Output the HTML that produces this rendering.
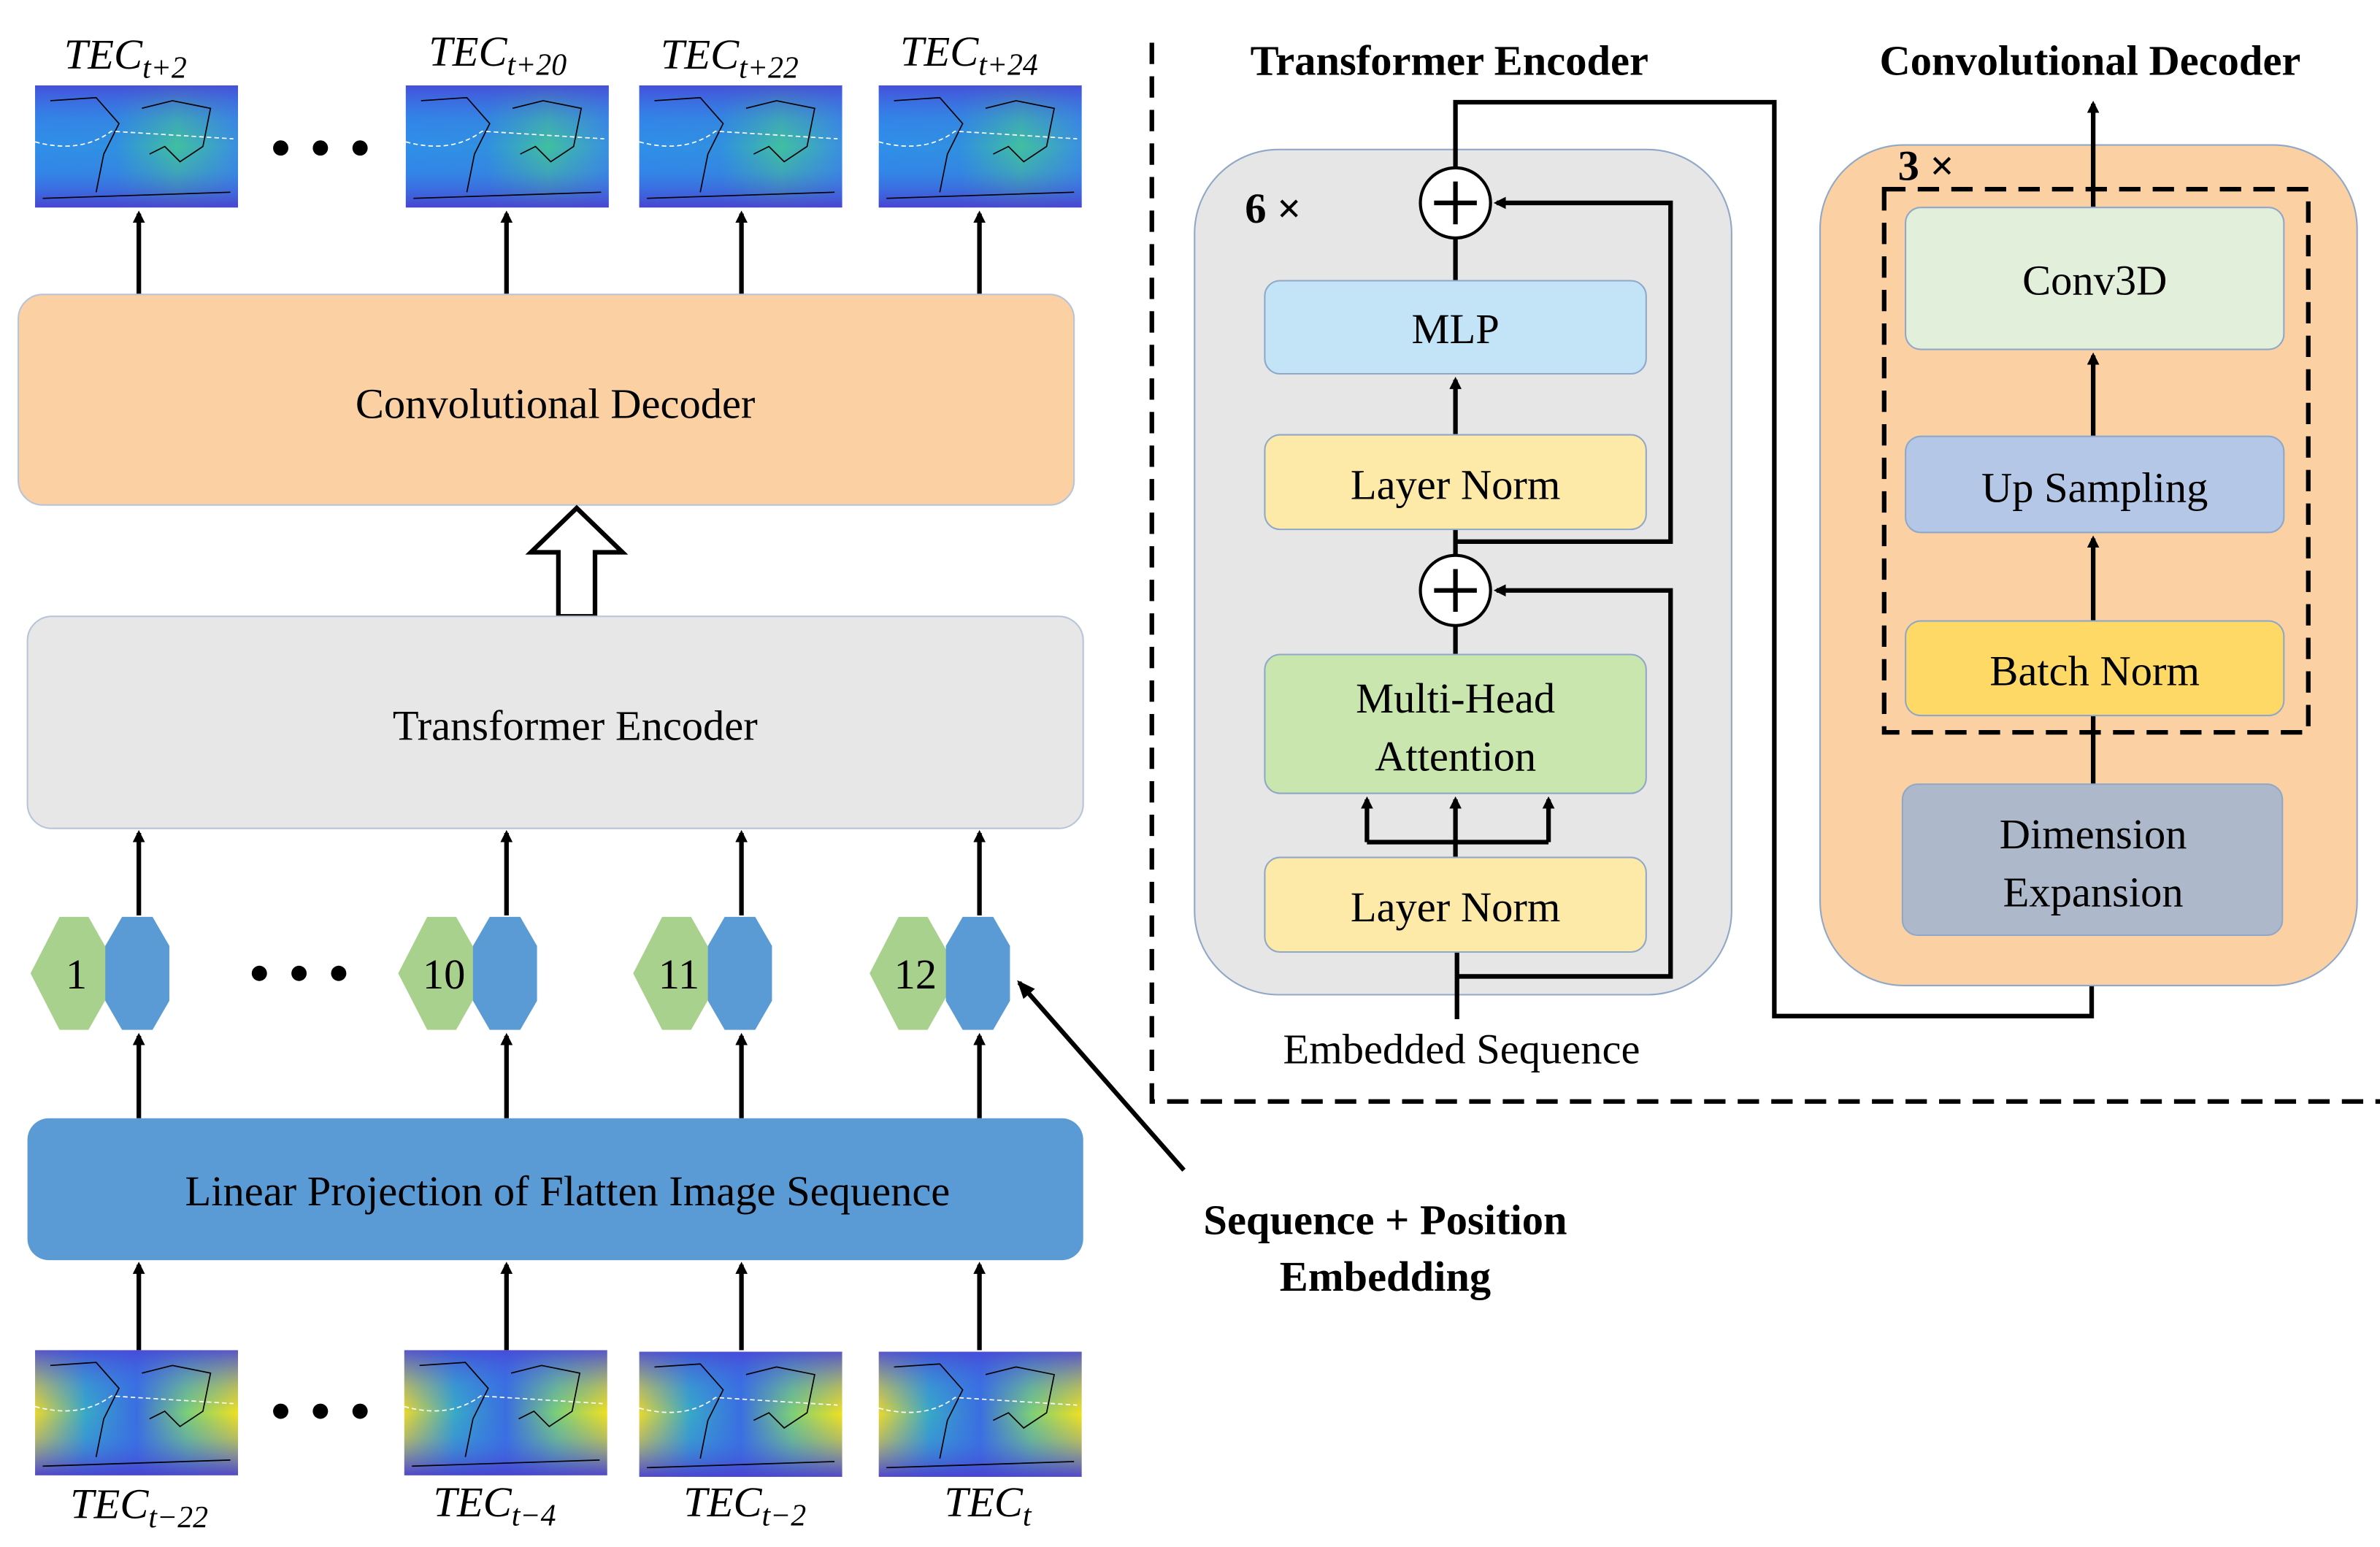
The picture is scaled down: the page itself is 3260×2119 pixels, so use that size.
<!DOCTYPE html>
<html><head><meta charset="utf-8"><style>
html,body{margin:0;padding:0;background:#fff;width:3260px;height:2119px;overflow:hidden}
svg{display:block}
svg text{font-family:"Liberation Serif","Times New Roman",serif}
</style></head><body>
<svg width="3260" height="2119" viewBox="0 0 1560 1014" xmlns="http://www.w3.org/2000/svg" font-family="Liberation Serif, Times New Roman, serif">
<defs>
<marker id="ah" markerWidth="8" markerHeight="8" refX="6" refY="4" orient="auto" markerUnits="userSpaceOnUse"><path d="M0,0 L8,4 L0,8 z" fill="#000"/></marker>
<marker id="ah2" markerWidth="12" markerHeight="10" refX="10" refY="5" orient="auto" markerUnits="userSpaceOnUse"><path d="M0,0 L12,5 L0,10 z" fill="#000"/></marker>
<linearGradient id="mapA" x1="0" y1="0" x2="1" y2="0">
<stop offset="0" stop-color="#e8d830"/><stop offset="0.25" stop-color="#38a8c8"/><stop offset="0.5" stop-color="#3a6ee0"/><stop offset="0.75" stop-color="#7ccf78"/><stop offset="1" stop-color="#f0e020"/></linearGradient>
<linearGradient id="mapV" x1="0" y1="0" x2="0" y2="1">
<stop offset="0" stop-color="#4848d8" stop-opacity="0.9"/><stop offset="0.3" stop-color="#3a70e8" stop-opacity="0.3"/><stop offset="0.5" stop-color="#3a70e8" stop-opacity="0"/><stop offset="0.7" stop-color="#3a70e8" stop-opacity="0.3"/><stop offset="1" stop-color="#4a40d0" stop-opacity="0.95"/></linearGradient>
<linearGradient id="mapB" x1="0" y1="0" x2="1" y2="0">
<stop offset="0" stop-color="#2f8fe8"/><stop offset="0.4" stop-color="#3090e0"/><stop offset="0.7" stop-color="#40c0a0"/><stop offset="1" stop-color="#3a90e0"/></linearGradient>
<g id="mapY"><rect width="133" height="82" fill="url(#mapA)"/><rect width="133" height="82" fill="url(#mapV)"/><path d="M10,10 L40,8 L55,25 L45,45 L40,70 M70,15 L90,10 L115,15 L110,40 L95,50 L85,40 L75,45 M5,76 L128,72" stroke="#000" stroke-width="0.8" fill="none"/><path d="M0,37 Q30,45 50,30 L130,35" stroke="#fff" stroke-width="0.8" stroke-dasharray="3,2" fill="none"/></g>
<g id="mapS"><rect width="133" height="80" fill="url(#mapB)"/><rect width="133" height="80" fill="url(#mapV)"/><path d="M10,10 L40,8 L55,25 L45,45 L40,70 M70,15 L90,10 L115,15 L110,40 L95,50 L85,40 L75,45 M5,74 L128,70" stroke="#000" stroke-width="0.8" fill="none"/><path d="M0,37 Q30,45 50,30 L130,35" stroke="#fff" stroke-width="0.8" stroke-dasharray="3,2" fill="none"/></g>
</defs>

<use href="#mapS" x="23" y="56"/><use href="#mapS" x="266" y="56"/><use href="#mapS" x="419" y="56"/><use href="#mapS" x="576" y="56"/>
<g font-style="italic" font-size="28">
<text x="42" y="45">TEC<tspan font-size="20" dy="6">t+2</tspan></text>
<text x="281" y="43">TEC<tspan font-size="20" dy="6">t+20</tspan></text>
<text x="433" y="45">TEC<tspan font-size="20" dy="6">t+22</tspan></text>
<text x="590" y="43">TEC<tspan font-size="20" dy="6">t+24</tspan></text>
</g>
<g fill="#000"><circle cx="184" cy="97" r="5"/><circle cx="210" cy="97" r="5"/><circle cx="236" cy="97" r="5"/>
<circle cx="170" cy="638" r="5"/><circle cx="196" cy="638" r="5"/><circle cx="222" cy="638" r="5"/>
<circle cx="184" cy="925" r="5"/><circle cx="210" cy="925" r="5"/><circle cx="236" cy="925" r="5"/></g>

<g stroke="#000" stroke-width="3" marker-end="url(#ah)">
<line x1="91" y1="193" x2="91" y2="140"/><line x1="332" y1="193" x2="332" y2="140"/><line x1="486" y1="193" x2="486" y2="140"/><line x1="642" y1="193" x2="642" y2="140"/>
<line x1="91" y1="600" x2="91" y2="546"/><line x1="332" y1="600" x2="332" y2="546"/><line x1="486" y1="600" x2="486" y2="546"/><line x1="642" y1="600" x2="642" y2="546"/>
<line x1="91" y1="733" x2="91" y2="679"/><line x1="332" y1="733" x2="332" y2="679"/><line x1="486" y1="733" x2="486" y2="679"/><line x1="642" y1="733" x2="642" y2="679"/>
<line x1="91" y1="885" x2="91" y2="829"/><line x1="332" y1="885" x2="332" y2="829"/><line x1="486" y1="885" x2="486" y2="829"/><line x1="642" y1="885" x2="642" y2="829"/>
</g>

<rect x="12" y="193" width="692" height="138" rx="16" fill="#fbd0a3" stroke="#b8c4d8" stroke-width="1"/>
<text x="364" y="274" font-size="28" text-anchor="middle">Convolutional Decoder</text>
<path d="M366,404 L366,362 L348,362 L378,333 L408,362 L390,362 L390,404 Z" fill="#fff" stroke="#000" stroke-width="3"/>
<rect x="18" y="404" width="692" height="139" rx="16" fill="#e7e7e7" stroke="#b8c4d8" stroke-width="1"/>
<text x="377" y="485" font-size="28" text-anchor="middle">Transformer Encoder</text>

<g font-size="28">
<g transform="translate(50,638)"><path d="M-21,-37 L-2,-37 L19,0 L-2,37 L-21,37 L-40,0 Z" fill="#a9d18e" transform="translate(10,0)"/><text x="0" y="10" text-anchor="middle">1</text></g>
<g transform="translate(90,638)"><path d="M-10,-37 L10,-37 L21,-18 L21,18 L10,37 L-10,37 L-21,18 L-21,-18 Z" fill="#5b9bd5"/></g>
<g transform="translate(291,638)"><path d="M-21,-37 L-2,-37 L19,0 L-2,37 L-21,37 L-40,0 Z" fill="#a9d18e" transform="translate(10,0)"/><text x="0" y="10" text-anchor="middle">10</text></g>
<g transform="translate(331,638)"><path d="M-10,-37 L10,-37 L21,-18 L21,18 L10,37 L-10,37 L-21,18 L-21,-18 Z" fill="#5b9bd5"/></g>
<g transform="translate(445,638)"><path d="M-21,-37 L-2,-37 L19,0 L-2,37 L-21,37 L-40,0 Z" fill="#a9d18e" transform="translate(10,0)"/><text x="0" y="10" text-anchor="middle">11</text></g>
<g transform="translate(485,638)"><path d="M-10,-37 L10,-37 L21,-18 L21,18 L10,37 L-10,37 L-21,18 L-21,-18 Z" fill="#5b9bd5"/></g>
<g transform="translate(600,638)"><path d="M-21,-37 L-2,-37 L19,0 L-2,37 L-21,37 L-40,0 Z" fill="#a9d18e" transform="translate(10,0)"/><text x="0" y="10" text-anchor="middle">12</text></g>
<g transform="translate(641,638)"><path d="M-10,-37 L10,-37 L21,-18 L21,18 L10,37 L-10,37 L-21,18 L-21,-18 Z" fill="#5b9bd5"/></g>
</g>

<rect x="18" y="733" width="692" height="93" rx="14" fill="#5b9bd5"/>
<text x="372" y="790" font-size="28" text-anchor="middle">Linear Projection of Flatten Image Sequence</text>

<line x1="776" y1="767" x2="668" y2="644" stroke="#000" stroke-width="3" marker-end="url(#ah2)"/>
<text x="908" y="809" font-size="28" font-weight="bold" text-anchor="middle">Sequence + Position</text>
<text x="908" y="846" font-size="28" font-weight="bold" text-anchor="middle">Embedding</text>

<use href="#mapY" x="23" y="885"/><use href="#mapY" x="265" y="885"/><use href="#mapY" x="419" y="886"/><use href="#mapY" x="576" y="886"/>
<g font-style="italic" font-size="28">
<text x="46" y="995">TEC<tspan font-size="20" dy="6">t−22</tspan></text>
<text x="284" y="994">TEC<tspan font-size="20" dy="6">t−4</tspan></text>
<text x="448" y="994">TEC<tspan font-size="20" dy="6">t−2</tspan></text>
<text x="619" y="994">TEC<tspan font-size="20" dy="6">t</tspan></text>
</g>

<path d="M755,28 L755,722 L1560,722" stroke="#000" stroke-width="3" stroke-dasharray="14,8" fill="none"/>

<text x="950" y="49" font-size="28" font-weight="bold" text-anchor="middle">Transformer Encoder</text>
<rect x="783" y="98" width="352" height="554" rx="55" fill="#e6e6e6" stroke="#8fa8c8" stroke-width="1"/>
<text x="816" y="146" font-size="28" font-weight="bold">6 ×</text>
<g stroke="#000" stroke-width="3" fill="none">
<path d="M954,110 L954,67 L1163,67 L1163,666 L1371,666 L1371,614"/>
<line x1="954" y1="156" x2="954" y2="184"/>
<line x1="954" y1="364" x2="954" y2="347"/>
<line x1="954" y1="429" x2="954" y2="410"/>
<line x1="955" y1="668" x2="955" y2="624"/>
<path d="M955,640 L1095,640 L1095,387 L981,387" marker-end="url(#ah)"/>
<path d="M954,355 L1095,355 L1095,133 L981,133" marker-end="url(#ah)"/>
<line x1="954" y1="285" x2="954" y2="249" marker-end="url(#ah)"/>
<line x1="954" y1="562" x2="954" y2="524" marker-end="url(#ah)"/>
<path d="M896,552 L1015,552"/>
<line x1="896" y1="552" x2="896" y2="524" marker-end="url(#ah)"/>
<line x1="1015" y1="552" x2="1015" y2="524" marker-end="url(#ah)"/>
</g>
<g stroke="#000" stroke-width="2" fill="#fff"><circle cx="954" cy="133" r="23"/><circle cx="954" cy="387" r="23"/></g>
<g stroke="#000" stroke-width="3"><line x1="940" y1="133" x2="968" y2="133"/><line x1="954" y1="119" x2="954" y2="147"/><line x1="940" y1="387" x2="968" y2="387"/><line x1="954" y1="373" x2="954" y2="401"/></g>
<g stroke="#8fa8c8" stroke-width="1">
<rect x="829" y="184" width="250" height="61" rx="10" fill="#c3e3f6"/>
<rect x="829" y="285" width="250" height="62" rx="10" fill="#feeaa8"/>
<rect x="829" y="429" width="250" height="91" rx="10" fill="#c8e6ad"/>
<rect x="829" y="562" width="250" height="62" rx="10" fill="#feeaa8"/>
</g>
<g font-size="28" text-anchor="middle">
<text x="954" y="225">MLP</text>
<text x="954" y="327">Layer Norm</text>
<text x="954" y="467">Multi-Head</text>
<text x="954" y="505">Attention</text>
<text x="954" y="604">Layer Norm</text>
<text x="958" y="697">Embedded Sequence</text>
</g>

<text x="1370" y="49" font-size="28" font-weight="bold" text-anchor="middle">Convolutional Decoder</text>
<rect x="1193" y="95" width="352" height="551" rx="55" fill="#fbd0a3" stroke="#8fa8c8" stroke-width="1"/>
<rect x="1235" y="124" width="278" height="356" fill="none" stroke="#000" stroke-width="3" stroke-dasharray="14,8"/>
<text x="1244" y="118" font-size="28" font-weight="bold">3 ×</text>
<g stroke="#000" stroke-width="3" fill="none">
<line x1="1372" y1="514" x2="1372" y2="469"/>
<line x1="1372" y1="407" x2="1372" y2="353" marker-end="url(#ah)"/>
<line x1="1372" y1="286" x2="1372" y2="233" marker-end="url(#ah)"/>
<line x1="1372" y1="136" x2="1372" y2="68" marker-end="url(#ah)"/>
</g>
<g stroke="#8fa8c8" stroke-width="1">
<rect x="1249" y="136" width="248" height="93" rx="10" fill="#e2efda"/>
<rect x="1249" y="286" width="248" height="63" rx="10" fill="#b4c7e7"/>
<rect x="1249" y="407" width="248" height="62" rx="10" fill="#ffd966"/>
<rect x="1247" y="514" width="249" height="99" rx="10" fill="#adb9ca"/>
</g>
<g font-size="28" text-anchor="middle">
<text x="1373" y="193">Conv3D</text>
<text x="1373" y="329">Up Sampling</text>
<text x="1373" y="449">Batch Norm</text>
<text x="1372" y="556">Dimension</text>
<text x="1372" y="594">Expansion</text>
</g>
</svg>
</body></html>
